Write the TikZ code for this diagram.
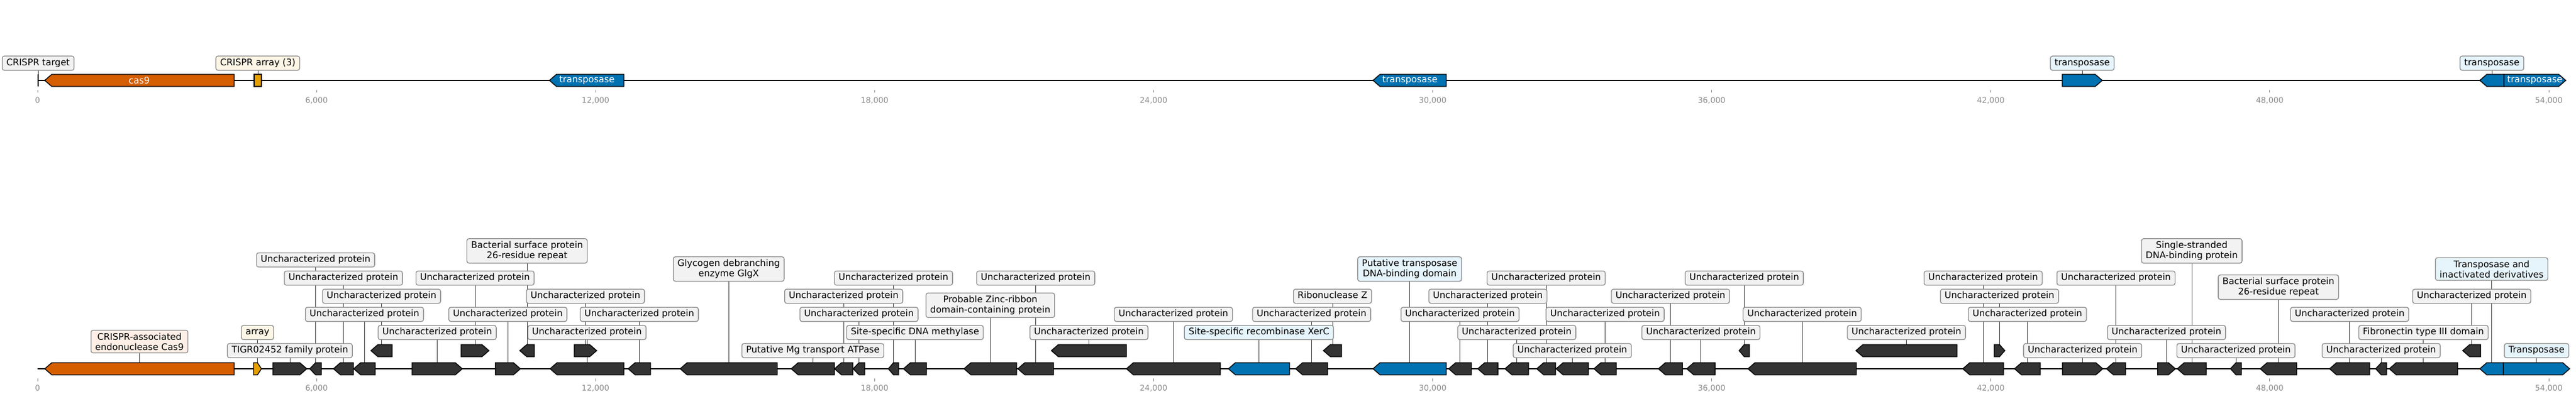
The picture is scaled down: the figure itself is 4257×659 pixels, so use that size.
\documentclass[tikz,border=0pt]{standalone}
\usepackage{fontspec}
\setmainfont{DejaVu Sans}
\usepackage{tikz}
\usetikzlibrary{positioning,backgrounds}

\pgfdeclarelayer{background}
\pgfdeclarelayer{front}
\pgfsetlayers{background,main,front}

\definecolor{casorange}{HTML}{D55E00}
\definecolor{arrayyellow}{HTML}{E69F00}
\definecolor{tnpblue}{HTML}{0072B2}
\definecolor{cdsgrey}{HTML}{333333}
\definecolor{boxgrey}{HTML}{F2F2F2}
\definecolor{boxedge}{HTML}{8C8C8C}
\definecolor{boxblue}{HTML}{E6F4FC}
\definecolor{boxorange}{HTML}{FDEFE6}
\definecolor{boxyellow}{HTML}{FDF6E6}
\definecolor{axisgrey}{HTML}{8A8A8A}

% name, start, end, l/r, middle, colour
\newcommand{\gene}[6]{%
  \pgfmathsetmacro{\ghead}{min(11.5,(#3-#2)/2)}%
  \ifx l#4
    \filldraw[cds, fill=#6] (#2,#5) -- ({#2+\ghead},#5-10) -- (#3,#5-10) -- (#3,#5+10) -- ({#2+\ghead},#5+10) -- cycle;
  \else
    \filldraw[cds, fill=#6] (#2,#5-10) -- ({#3-\ghead},#5-10) -- (#3,#5) -- ({#3-\ghead},#5+10) -- (#2,#5+10) -- cycle;
  \fi
  \coordinate (#1) at ({(#2+#3)/2},#5-10);
}
\newcommand{\uncprot}{Uncharacterized protein}

\begin{document}
\begin{tikzpicture}[x=1pt, y=-1pt,
    lab/.style={
      rectangle,
      rounded corners=3.5pt,
      draw=boxedge,
      line width=1.3pt,
      fill=boxgrey,
      align=center,
      font=\fontsize{15}{17}\selectfont,
      inner xsep=7pt,
      inner ysep=4.5pt,
      text height=11pt,
      text depth=3.5pt
    },
    labtwo/.style={lab, text height=, text depth=},
    cds/.style={draw=black, line width=1.4pt, line join=miter},
    conn/.style={draw=black!75, line width=0.9pt},
    track/.style={draw=black, line width=2.6pt},
    tick/.style={draw=axisgrey, line width=0.9pt},
    ticklab/.style={text=axisgrey, font=\fontsize{13}{15}\selectfont, inner sep=0pt},
    glab/.style={text=white, font=\fontsize{15}{17}\selectfont, inner sep=0pt}
]
\useasboundingbox (0,0) rectangle (4257,659);

%%% Top track
\draw[track] (62,133) -- (4240,133);
\draw[line width=1.8pt] (63,123) -- (63,143);
\coordinate (t0) at (63,123);
\gene{t1}{74}{387}{l}{133}{casorange}
\filldraw[cds, fill=arrayyellow] (420,123) rectangle (432,143);
\coordinate (t2) at (426,123);
\gene{t3}{908}{1031}{l}{133}{tnpblue}
\gene{t4}{2269}{2390}{l}{133}{tnpblue}
\gene{t5}{3408}{3474}{r}{133}{tnpblue}
\gene{t6}{4098}{4138}{l}{133}{tnpblue}
\gene{t7}{4138}{4240}{r}{133}{tnpblue}

\node[glab] (g1) at (230,133) {cas9};
\node[glab] (g3) at (970,133) {transposase};
\node[glab] (g4) at (2330,133) {transposase};
\node[glab] (g7) at (4189,133) {transposase};

\foreach \k/\lab in {0/0,1/{6,000},2/{12,000},3/{18,000},4/{24,000},5/{30,000},6/{36,000},7/{42,000},8/{48,000},9/{54,000}}{
  \draw[tick] ({62+\k*461.11},149) -- ({62+\k*461.11},153);
  \node[ticklab] (tt\k) at ({62+\k*461.11},166) {\lab};
}

%%% Bottom track
\draw[track] (62,610) -- (4246,610);
\gene{b1}{74}{387}{l}{610}{casorange}
\gene{b2}{419}{432}{r}{610}{arrayyellow}
\gene{b3}{451}{507}{r}{610}{cdsgrey}
\gene{b4}{512}{531}{l}{610}{cdsgrey}
\gene{b5}{551}{584}{l}{610}{cdsgrey}
\gene{b6}{584.5}{620}{l}{610}{cdsgrey}
\gene{b7}{613}{648}{l}{580}{cdsgrey}
\gene{b8}{681}{764}{r}{610}{cdsgrey}
\gene{b9}{762}{808}{r}{580}{cdsgrey}
\gene{b10}{818.5}{860}{r}{610}{cdsgrey}
\gene{b11}{859}{883}{l}{580}{cdsgrey}
\gene{b12}{909}{1031}{l}{610}{cdsgrey}
\gene{b13}{949}{986}{r}{580}{cdsgrey}
\gene{b14}{1038}{1075}{l}{610}{cdsgrey}
\gene{b15}{1124}{1284.5}{l}{610}{cdsgrey}
\gene{b16}{1307.5}{1379}{l}{610}{cdsgrey}
\gene{b17}{1379}{1409.5}{l}{610}{cdsgrey}
\gene{b18}{1410}{1429}{l}{610}{cdsgrey}
\gene{b19}{1468}{1485}{l}{610}{cdsgrey}
\gene{b20}{1493}{1531}{l}{610}{cdsgrey}
\gene{b21}{1593}{1680}{l}{610}{cdsgrey}
\gene{b22}{1682}{1741}{l}{610}{cdsgrey}
\gene{b23}{1737.5}{1861.5}{l}{580}{cdsgrey}
\gene{b24}{1861.5}{2016.7}{l}{610}{cdsgrey}
\gene{b25}{2030}{2131}{l}{610}{tnpblue}
\gene{b26}{2141}{2194}{l}{610}{cdsgrey}
\gene{b27}{2187}{2217}{l}{580}{cdsgrey}
\gene{b28}{2269}{2390}{l}{610}{tnpblue}
\gene{b29}{2394}{2431.5}{l}{610}{cdsgrey}
\gene{b30}{2442}{2475.6}{l}{610}{cdsgrey}
\gene{b31}{2487}{2526}{l}{610}{cdsgrey}
\gene{b32}{2539.5}{2570.7}{l}{610}{cdsgrey}
\gene{b33}{2571.6}{2625}{l}{610}{cdsgrey}
\gene{b34}{2634}{2671}{l}{610}{cdsgrey}
\gene{b35}{2740.6}{2780.5}{l}{610}{cdsgrey}
\gene{b36}{2787.4}{2834.4}{l}{610}{cdsgrey}
\gene{b37}{2874}{2891}{l}{580}{cdsgrey}
\gene{b38}{2888.6}{3067.7}{l}{610}{cdsgrey}
\gene{b39}{3067}{3234}{l}{580}{cdsgrey}
\gene{b40}{3243.6}{3311}{l}{610}{cdsgrey}
\gene{b41}{3295.5}{3313}{r}{580}{cdsgrey}
\gene{b42}{3329}{3371.7}{l}{610}{cdsgrey}
\gene{b43}{3408.4}{3475}{r}{610}{cdsgrey}
\gene{b44}{3481}{3512.6}{l}{610}{cdsgrey}
\gene{b45}{3565.5}{3595}{r}{610}{cdsgrey}
\gene{b46}{3598}{3646}{l}{610}{cdsgrey}
\gene{b47}{3686}{3704}{l}{610}{cdsgrey}
\gene{b48}{3735}{3795.5}{l}{610}{cdsgrey}
\gene{b49}{3849.7}{3916}{l}{610}{cdsgrey}
\gene{b50}{3926}{3944}{l}{610}{cdsgrey}
\gene{b51}{3948.4}{4061.4}{l}{610}{cdsgrey}
\gene{b52}{4069.7}{4099.5}{l}{580}{cdsgrey}
\gene{b53}{4098}{4137}{l}{610}{tnpblue}
\gene{b54}{4137}{4246.5}{r}{610}{tnpblue}

\foreach \k/\lab in {0/0,1/{6,000},2/{12,000},3/{18,000},4/{24,000},5/{30,000},6/{36,000},7/{42,000},8/{48,000},9/{54,000}}{
  \draw[tick] ({62+\k*461.11},626) -- ({62+\k*461.11},631);
  \node[ticklab] (tb\k) at ({62+\k*461.11},642) {\lab};
}

%%% Labels
\begin{pgfonlayer}{front}
\node[lab] (ct0) at (t0 |- 0,104.5) {CRISPR target};
\node[lab, fill=boxyellow] (ct2) at (t2 |- 0,104.5) {CRISPR array (3)};
\node[lab, fill=boxblue] (ct5) at (t5 |- 0,104.5) {transposase};
\node[lab, fill=boxblue] (ct6) at (t6 |- 0,104.5) {transposase};

\node[labtwo, fill=boxorange] (c1) at (b1 |- 0,565) {CRISPR-associated\\endonuclease Cas9};
\node[lab, fill=boxyellow] (c2) at (b2 |- 0,550) {array};
\node[lab] (c3) at (b3 |- 0,580) {TIGR02452 family protein};
\node[lab] (c4) at (b4 |- 0,430) {\uncprot};
\node[lab] (c5) at (b5 |- 0,460) {\uncprot};
\node[lab] (c6) at (b6 |- 0,520) {\uncprot};
\node[lab] (c7) at (b7 |- 0,490) {\uncprot};
\node[lab] (c8) at (b8 |- 0,550) {\uncprot};
\node[lab] (c9) at (b9 |- 0,460) {\uncprot};
\node[lab] (c10) at (b10 |- 0,520) {\uncprot};
\node[labtwo] (c11) at (b11 |- 0,415) {Bacterial surface protein\\26-residue repeat};
\node[lab] (c12) at (b12 |- 0,550) {\uncprot};
\node[lab] (c13) at (b13 |- 0,490) {\uncprot};
\node[lab] (c14) at (b14 |- 0,520) {\uncprot};
\node[labtwo] (c15) at (b15 |- 0,445) {Glycogen debranching\\enzyme GlgX};
\node[lab] (c16) at (b16 |- 0,580) {Putative Mg transport ATPase};
\node[lab] (c17) at (b17 |- 0,490) {\uncprot};
\node[lab] (c18) at (b18 |- 0,520) {\uncprot};
\node[lab] (c19) at (b19 |- 0,460) {\uncprot};
\node[lab] (c20) at (b20 |- 0,550) {Site-specific DNA methylase};
\node[labtwo] (c21) at (b21 |- 0,505) {Probable Zinc-ribbon\\domain-containing protein};
\node[lab] (c22) at (b22 |- 0,460) {\uncprot};
\node[lab] (c23) at (b23 |- 0,550) {\uncprot};
\node[lab] (c24) at (b24 |- 0,520) {\uncprot};
\node[lab, fill=boxblue] (c25) at (b25 |- 0,550) {Site-specific recombinase XerC};
\node[lab] (c26) at (b26 |- 0,520) {\uncprot};
\node[lab] (c27) at (b27 |- 0,490) {Ribonuclease Z};
\node[labtwo, fill=boxblue] (c28) at (b28 |- 0,445) {Putative transposase\\DNA-binding domain};
\node[lab] (c29) at (b29 |- 0,520) {\uncprot};
\node[lab] (c30) at (b30 |- 0,490) {\uncprot};
\node[lab] (c31) at (b31 |- 0,550) {\uncprot};
\node[lab] (c32) at (b32 |- 0,460) {\uncprot};
\node[lab] (c33) at (b33 |- 0,580) {\uncprot};
\node[lab] (c34) at (b34 |- 0,520) {\uncprot};
\node[lab] (c35) at (b35 |- 0,490) {\uncprot};
\node[lab] (c36) at (b36 |- 0,550) {\uncprot};
\node[lab] (c37) at (b37 |- 0,460) {\uncprot};
\node[lab] (c38) at (b38 |- 0,520) {\uncprot};
\node[lab] (c39) at (b39 |- 0,550) {\uncprot};
\node[lab] (c40) at (b40 |- 0,460) {\uncprot};
\node[lab] (c41) at (b41 |- 0,490) {\uncprot};
\node[lab] (c42) at (b42 |- 0,520) {\uncprot};
\node[lab] (c43) at (b43 |- 0,580) {\uncprot};
\node[lab] (c44) at (b44 |- 0,460) {\uncprot};
\node[lab] (c45) at (b45 |- 0,550) {\uncprot};
\node[labtwo] (c46) at (b46 |- 0,415) {Single-stranded\\DNA-binding protein};
\node[lab] (c47) at (b47 |- 0,580) {\uncprot};
\node[labtwo] (c48) at (b48 |- 0,475) {Bacterial surface protein\\26-residue repeat};
\node[lab] (c49) at (b49 |- 0,520) {\uncprot};
\node[lab] (c50) at (b50 |- 0,580) {\uncprot};
\node[lab] (c51) at (b51 |- 0,550) {Fibronectin type III domain};
\node[lab] (c52) at (b52 |- 0,490) {\uncprot};
\node[labtwo, fill=boxblue] (c53) at (b53 |- 0,445) {Transposase and\\inactivated derivatives};
\node[lab, fill=boxblue] (c54) at (b54 |- 0,580) {Transposase};
\end{pgfonlayer}

%%% Connectors
\begin{pgfonlayer}{background}
\foreach \i in {0,2,5,6}
  \draw[conn] (ct\i.south) -- (t\i);
\foreach \i in {1,...,54}
  \draw[conn] (c\i.south) -- (b\i);
\end{pgfonlayer}

\end{tikzpicture}
\end{document}
